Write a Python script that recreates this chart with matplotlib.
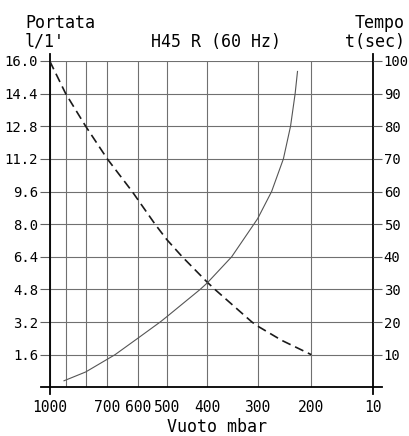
import matplotlib
matplotlib.use("Agg")
import matplotlib.pyplot as plt
import numpy as np

# Valori
vuoto_ticks = [1000, 900, 800, 700, 600, 500, 400, 300, 200, 10]
vuoto_labels = ['1000', '', '', '700', '600', '500', '400', '300', '200', '10']
portata_ticks = [1.6, 3.2, 4.8, 6.4, 8.0, 9.6, 11.2, 12.8, 14.4, 16.0]
tempo_ticks = [10, 20, 30, 40, 50, 60, 70, 80, 90, 100]

# Portata (l/1') - curva tratteggiata
portata_vuoto = [1000, 900, 800, 700, 617, 538, 500, 459, 400, 383, 310, 300, 250, 200]
portata_val = [16.0, 14.4, 12.8, 11.2, 9.6, 8.0, 7.25, 6.4, 5.15, 4.8, 3.2, 3.0, 2.3, 1.6]

# Tempo (sec) - curva continua
tempo_vuoto = [910, 800, 700, 673, 600, 521, 500, 416, 400, 348, 300, 270, 247, 234, 226, 222]
tempo_val = [2.0, 4.7, 8.6, 10, 15.0, 20, 21.6, 30, 32.0, 40, 51.7, 60, 70, 80, 90, 96.8]

# Scala dell'asse x del disegno originale (non uniforme)
scala_pos = [0, 0.0494, 0.1112, 0.1780, 0.2719, 0.3615, 0.4870, 0.6427, 0.8084, 1.0]
scala_log = -np.log10(vuoto_ticks)


def avanti(p):
    p = np.clip(np.asarray(p, dtype=float), 1e-3, None)
    return np.interp(-np.log10(p), scala_log, scala_pos)


def indietro(t):
    return 10 ** -np.interp(t, scala_pos, scala_log)


plt.rcParams['font.family'] = ['DejaVu Sans Mono', 'DejaVu Sans']

fig = plt.figure(figsize=(4.1, 4.36), dpi=100)
ax = fig.add_axes([49.7 / 410, (436 - 387.3) / 436, 323.6 / 410, 326.3 / 436])
ax.set_xscale('function', functions=(avanti, indietro))
ax.set_xlim(10, 1000)
ax.set_ylim(0, 16.0)

ax.set_xticks(vuoto_ticks)
ax.set_xticklabels(vuoto_labels)
ax.set_yticks(portata_ticks)
ax.set_yticklabels(['%.1f' % v for v in portata_ticks])
ax.grid(True, color='#707070', linewidth=0.8)
ax.set_axisbelow(True)
ax.tick_params(axis='x', length=0, pad=9, labelsize=10.5)
ax.tick_params(axis='y', direction='out', length=7.2, width=0.8, color='#606060', pad=1, labelsize=10)

line, = ax.plot(portata_vuoto, portata_val, color='#1a1a1a', linewidth=1.2, zorder=3)
line.set_dashes((5.5, 3))

ax2 = ax.twinx()
ax2.set_ylim(0, 100)
ax2.set_yticks(tempo_ticks)
ax2.tick_params(axis='y', direction='out', length=6.5, width=0.8, color='#606060', pad=1, labelsize=10)
ax2.plot(tempo_vuoto, tempo_val, color='#555555', linewidth=0.8, zorder=3)

# assi disegnati come nell'originale (sporgono oltre l'area)
for a in (ax, ax2):
    for s in a.spines.values():
        s.set_visible(False)
dy0 = -7 / 326.3
dy1 = 1 + 7 / 326.3
dx = 8.7 / 323.6
ax.plot([0, 0], [dy0, dy1], transform=ax.transAxes, color='black', lw=1.3, clip_on=False)
ax.plot([1, 1], [dy0, dy1], transform=ax.transAxes, color='black', lw=1.3, clip_on=False)
ax.plot([-dx, 1 + dx], [0, 0], transform=ax.transAxes, color='black', lw=1.3, clip_on=False)

# testi
fig.text(25 / 410, (436 - 28) / 436, 'Portata', ha='left', va='baseline', fontsize=12)
fig.text(25 / 410, (436 - 47) / 436, "l/1'", ha='left', va='baseline', fontsize=12)
fig.text(405 / 410, (436 - 28) / 436, 'Tempo', ha='right', va='baseline', fontsize=12)
fig.text(405 / 410, (436 - 47) / 436, 't(sec)', ha='right', va='baseline', fontsize=12)
fig.text(216.5 / 410, (436 - 47) / 436, 'H45 R (60 Hz)', ha='center', va='baseline', fontsize=12)
fig.text(217 / 410, (436 - 432) / 436, 'Vuoto mbar', ha='center', va='baseline', fontsize=12)

fig.savefig('out.png', dpi=100)
